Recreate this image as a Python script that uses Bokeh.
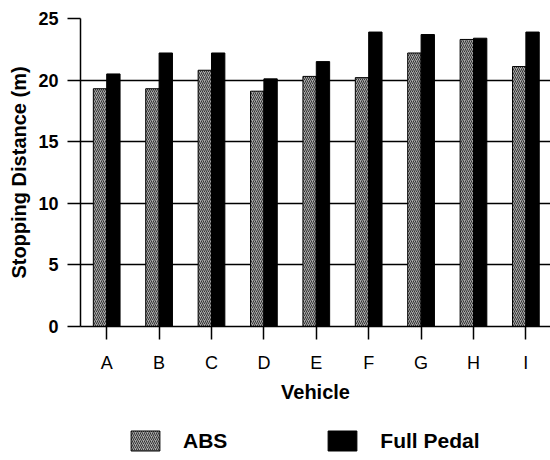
from bokeh.plotting import figure
from bokeh.layouts import column
from bokeh.models import ColumnDataSource, FixedTicker, Range1d, Legend, LegendItem
from bokeh.transform import dodge
from bokeh.embed import file_html
from bokeh.resources import INLINE

vehicles = ["A", "B", "C", "D", "E", "F", "G", "H", "I"]
abs_vals = [19.3, 19.3, 20.8, 19.1, 20.3, 20.2, 22.2, 23.3, 21.1]
full_vals = [20.5, 22.2, 22.2, 20.1, 21.5, 23.9, 23.7, 23.4, 23.9]
y_ticks = [0, 5, 10, 15, 20, 25]
series_names = ["ABS", "Full Pedal"]

idx = list(range(len(vehicles)))
src = ColumnDataSource(dict(x=idx, abs=abs_vals, full=full_vals))

FONT = "Liberation Sans"
ABS_STYLE = dict(fill_color="#a8a8a8", line_color="black", line_width=1,
                 hatch_pattern="/", hatch_color="#333333", hatch_scale=4, hatch_weight=1)
FULL_STYLE = dict(fill_color="black", line_color="black", line_width=1)

p = figure(width=550, height=420, output_backend="svg", toolbar_location=None,
           x_range=Range1d(-0.5, 8.47), y_range=Range1d(0, 25),
           min_border_left=80, min_border_top=18, min_border_right=0,
           min_border_bottom=94)
p.outline_line_color = None
p.background_fill_color = "white"

bw = 0.255
p.vbar(x=dodge("x", -bw / 2), top="abs", width=bw, source=src, **ABS_STYLE)
p.vbar(x=dodge("x", bw / 2), top="full", width=bw, source=src, **FULL_STYLE)

# grid
p.xgrid.grid_line_color = None
p.ygrid.grid_line_color = "black"
p.ygrid.grid_line_width = 1.5
p.ygrid.ticker = FixedTicker(ticks=y_ticks)

# y axis
p.yaxis.ticker = FixedTicker(ticks=y_ticks)
p.yaxis.axis_line_color = "black"
p.yaxis.axis_line_width = 1.5
p.yaxis.major_tick_out = 13
p.yaxis.major_tick_in = 0
p.yaxis.major_tick_line_width = 1.5
p.yaxis.minor_tick_line_color = None
p.yaxis.major_label_standoff = 9
p.yaxis.major_label_text_font = FONT
p.yaxis.major_label_text_font_size = "18px"
p.yaxis.major_label_text_font_style = "bold"
p.yaxis.major_label_text_color = "black"
p.yaxis.axis_label = "Stopping Distance (m)"
p.yaxis.axis_label_text_font = FONT
p.yaxis.axis_label_text_font_size = "20px"
p.yaxis.axis_label_text_font_style = "bold"
p.yaxis.axis_label_text_color = "black"
p.yaxis.axis_label_standoff = 5

# x axis
p.xaxis.ticker = FixedTicker(ticks=idx)
p.xaxis.major_label_overrides = {i: v for i, v in zip(idx, vehicles)}
p.xaxis.axis_line_color = "black"
p.xaxis.axis_line_width = 1.5
p.xaxis.major_tick_out = 13
p.xaxis.major_tick_in = 0
p.xaxis.major_tick_line_width = 1.5
p.xaxis.minor_tick_line_color = None
p.xaxis.major_label_standoff = 13
p.xaxis.major_label_text_font = FONT
p.xaxis.major_label_text_font_size = "18px"
p.xaxis.major_label_text_color = "black"
p.xaxis.axis_label = "Vehicle"
p.xaxis.axis_label_text_font = FONT
p.xaxis.axis_label_text_font_size = "20px"
p.xaxis.axis_label_text_font_style = "bold"
p.xaxis.axis_label_text_color = "black"
p.xaxis.axis_label_standoff = 5

# legend strip below the chart (its frame is aligned with the chart's frame)
lg = figure(width=550, height=40, output_backend="svg", toolbar_location=None,
            x_range=Range1d(0, 1), y_range=Range1d(0, 1),
            min_border=0, x_axis_type=None, y_axis_type=None)
lg.outline_line_color = None
lg.xgrid.visible = False
lg.ygrid.visible = False
# legend-only proxies, placed outside the visible range
proxy = ColumnDataSource(dict(x=[-5], top=[0]))
r_abs = lg.vbar(x="x", top="top", width=0.1, source=proxy, **ABS_STYLE)
r_full = lg.vbar(x="x", top="top", width=0.1, source=proxy, **FULL_STYLE)

legend = Legend(items=[LegendItem(label=series_names[0], renderers=[r_abs]),
                       LegendItem(label=series_names[1], renderers=[r_full])],
                location=(47, 7), orientation="horizontal",
                glyph_width=36, glyph_height=25, label_height=20,
                label_standoff=20, spacing=97, padding=0, margin=0,
                label_text_font=FONT, label_text_font_size="21px",
                label_text_font_style="bold", label_text_color="black",
                border_line_color=None, background_fill_alpha=0)
lg.add_layout(legend, "center")

layout = column(p, lg, spacing=0)
open("out.html", "w").write(file_html(layout, INLINE))
